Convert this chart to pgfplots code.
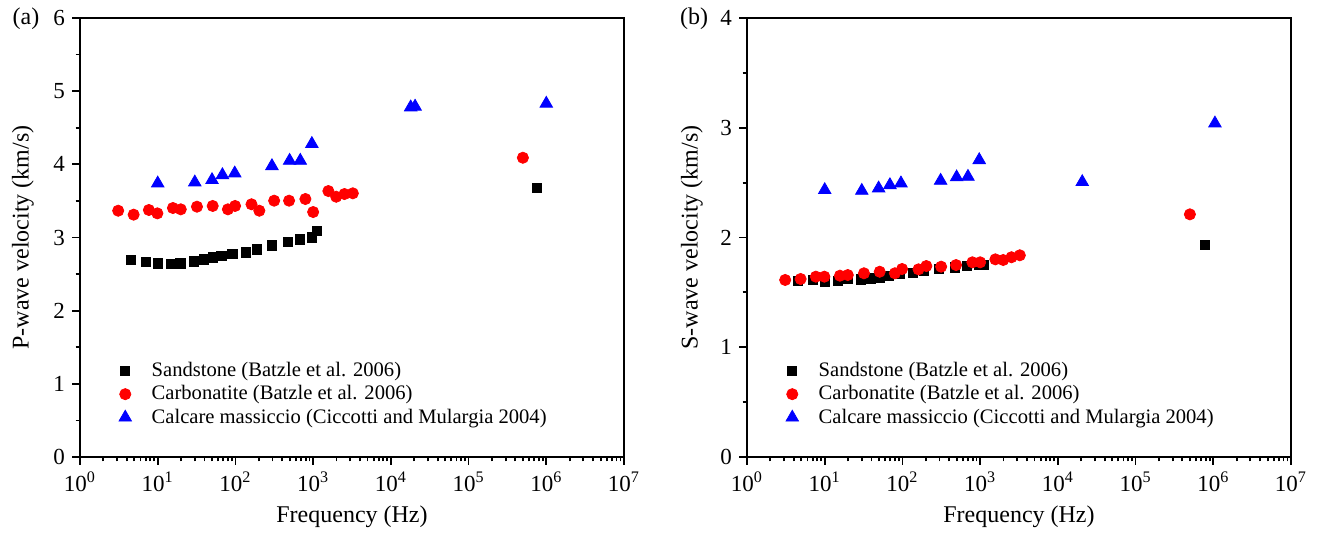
\documentclass[border=0pt]{standalone}
\usepackage{pgfplots}
\pgfplotsset{compat=1.18}
\usepackage{fontspec}
\setmainfont{Liberation Serif}
\definecolor{mblue}{RGB}{0,0,255}
\definecolor{mred}{RGB}{255,0,0}

\begin{document}
\begin{tikzpicture}
\path (-40pt,-37.5pt) rectangle (619pt,228.5pt);

% frames (full box, no ticks)
\begin{axis}[at={(0pt,0pt)}, anchor=south west, width=272pt, height=219.5pt, scale only axis,
  xmin=0, xmax=1, ymin=0, ymax=1, xtick=\empty, ytick=\empty, axis line style={line width=1pt}]
\end{axis}
\begin{axis}[at={(333.5pt,0pt)}, anchor=south west, width=272pt, height=219.5pt, scale only axis,
  xmin=0, xmax=1, ymin=0, ymax=1, xtick=\empty, ytick=\empty, axis line style={line width=1pt}]
\end{axis}

\begin{axis}[at={(0pt,0pt)}, anchor=south west,
  xmode=log, xmin=1, xmax=1e7,
  width=272pt, height=219.5pt, scale only axis,
  xtick={1,10,100,1000,10000,100000,1000000,10000000},
  xticklabels={10\textsuperscript{0},10\textsuperscript{1},10\textsuperscript{2},10\textsuperscript{3},10\textsuperscript{4},10\textsuperscript{5},10\textsuperscript{6},10\textsuperscript{7}},
  ymin=0, ymax=6, ytick={0,1,2,3,4,5,6}, minor y tick num=1,
  /pgf/number format/assume math mode=true,
  tick align=outside, xtick pos=bottom, ytick pos=left,
  major tick length=4pt, minor tick length=2.2pt,
  every tick/.style={black, line width=0.9pt},
  axis line style={line width=1pt},
  tick label style={font=\fontsize{11.5}{13}\selectfont},
  label style={font=\fontsize{12}{14}\selectfont},
  ylabel shift=3pt,
  xlabel={Frequency (Hz)},
  ylabel={P-wave velocity (km/s)},
  legend style={draw=none, fill=none, font=\fontsize{10.3}{12}\selectfont,
    at={(0.06,0.235)}, anchor=north west, row sep=-1pt},
  legend image code/.code={\draw[#1] plot coordinates {(0pt,0pt)}; \path (0pt,0pt) (11pt,0pt);},
  legend cell align=left]
\addplot[only marks, mark=square*, mark size=2.3pt, color=black] coordinates {
 (4.48,2.692) (7.04,2.669) (10.1,2.647) (14.7,2.638) (19.6,2.647) (29.4,2.674)
 (39.5,2.701) (51.5,2.729) (66,2.747) (91.4,2.774) (135.5,2.797) (191,2.838)
 (298,2.893) (473,2.938) (683,2.975) (963,3.002) (1107,3.093) (7.6e5,3.676)};
\addlegendentry{Sandstone (Batzle et al. 2006)}
\addplot[only marks, mark=*, mark size=2.8pt, color=mred] coordinates {
 (3.1,3.366) (4.9,3.312) (7.7,3.376) (9.9,3.330) (15.7,3.403) (19.8,3.385)
 (32,3.421) (51,3.431) (80,3.385) (99,3.431) (161,3.454) (203,3.366)
 (315,3.503) (490,3.503) (795,3.526) (1000,3.348) (1570,3.635) (1980,3.557)
 (2530,3.594) (3240,3.604) (5e5,4.09)};
\addlegendentry{Carbonatite (Batzle et al. 2006)}
\addplot[only marks, mark=triangle*, mark size=3.6pt, color=mblue] coordinates {
 (10,3.74) (30,3.754) (50,3.786) (68,3.854) (98,3.877) (295,3.977)
 (498,4.05) (683,4.05) (963,4.28) (1.8e4,4.78) (2.05e4,4.79) (1e6,4.83)};
\addlegendentry{Calcare massiccio (Ciccotti and Mulargia 2004)}
\end{axis}
\node[font=\fontsize{12}{14}\selectfont] at (-27pt,219pt) {(a)};

\begin{axis}[at={(333.5pt,0pt)}, anchor=south west,
  xmode=log, xmin=1, xmax=1e7,
  width=272pt, height=219.5pt, scale only axis,
  xtick={1,10,100,1000,10000,100000,1000000,10000000},
  xticklabels={10\textsuperscript{0},10\textsuperscript{1},10\textsuperscript{2},10\textsuperscript{3},10\textsuperscript{4},10\textsuperscript{5},10\textsuperscript{6},10\textsuperscript{7}},
  ymin=0, ymax=4, ytick={0,1,2,3,4}, minor y tick num=1,
  /pgf/number format/assume math mode=true,
  tick align=outside, xtick pos=bottom, ytick pos=left,
  major tick length=4pt, minor tick length=2.2pt,
  every tick/.style={black, line width=0.9pt},
  axis line style={line width=1pt},
  tick label style={font=\fontsize{11.5}{13}\selectfont},
  label style={font=\fontsize{12}{14}\selectfont},
  ylabel shift=2pt,
  xlabel={Frequency (Hz)},
  ylabel={S-wave velocity (km/s)},
  legend style={draw=none, fill=none, font=\fontsize{10.3}{12}\selectfont,
    at={(0.06,0.235)}, anchor=north west, row sep=-1pt},
  legend image code/.code={\draw[#1] plot coordinates {(0pt,0pt)}; \path (0pt,0pt) (11pt,0pt);},
  legend cell align=left]
\addplot[only marks, mark=square*, mark size=2.3pt, color=black] coordinates {
 (4.48,1.607) (7.04,1.613) (10.1,1.598) (14.7,1.607) (19.6,1.628) (29.4,1.619)
 (39.5,1.628) (51.5,1.637) (66,1.649) (91.4,1.665) (135.5,1.680) (191,1.698)
 (298,1.713) (473,1.728) (683,1.743) (963,1.749) (1107,1.749) (7.8e5,1.929)};
\addlegendentry{Sandstone (Batzle et al. 2006)}
\addplot[only marks, mark=*, mark size=2.8pt, color=mred] coordinates {
 (3.1,1.613) (4.9,1.622) (7.7,1.643) (9.9,1.643) (15.7,1.652) (19.8,1.658)
 (32,1.674) (51,1.688) (80,1.674) (99,1.713) (161,1.710) (203,1.740)
 (315,1.734) (490,1.749) (795,1.774) (1000,1.774) (1570,1.801) (1980,1.795)
 (2530,1.820) (3240,1.838) (5e5,2.211)};
\addlegendentry{Carbonatite (Batzle et al. 2006)}
\addplot[only marks, mark=triangle*, mark size=3.6pt, color=mblue] coordinates {
 (10,2.433) (30,2.426) (49.4,2.448) (69,2.478) (95.7,2.494) (310,2.518)
 (498,2.549) (697,2.554) (973,2.706) (2.06e4,2.506) (1.05e6,3.04)};
\addlegendentry{Calcare massiccio (Ciccotti and Mulargia 2004)}
\end{axis}
\node[font=\fontsize{12}{14}\selectfont] at (307pt,219pt) {(b)};
\end{tikzpicture}
\end{document}
